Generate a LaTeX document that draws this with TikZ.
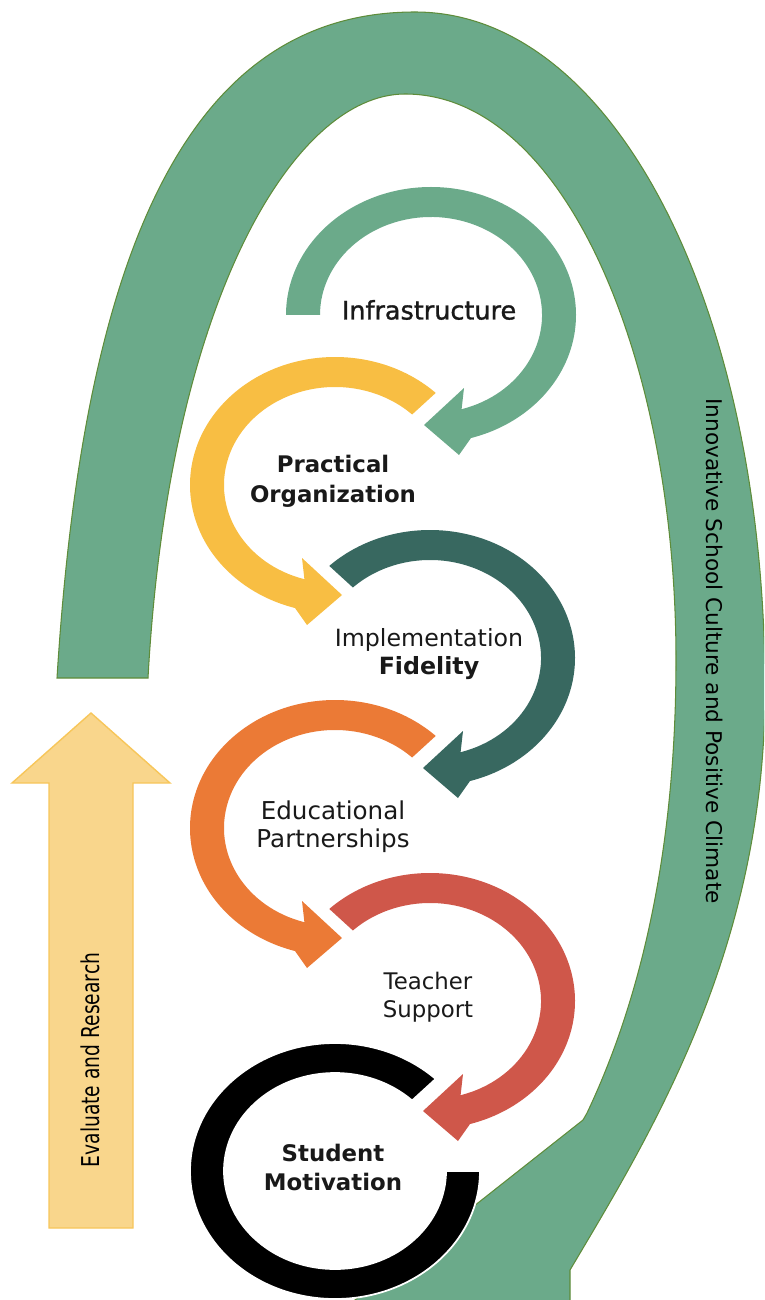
\documentclass[tikz,border=0pt]{standalone}
\usepackage{fontspec}
\setmainfont{DejaVu Sans}
\newfontfamily\narrowfont[FakeStretch=0.76]{DejaVu Sans}
\newfontfamily\mediumfont[FakeBold=1.2]{DejaVu Sans}
\usepackage{xcolor}
\usepackage{tikz}

\definecolor{sagegreen}{RGB}{107,170,138}
\definecolor{sageline}{RGB}{94,140,58}
\definecolor{sunyellow}{RGB}{248,190,67}
\definecolor{deepteal}{RGB}{56,104,96}
\definecolor{warmorange}{RGB}{235,122,54}
\definecolor{brickred}{RGB}{207,87,74}
\definecolor{paleyellow}{RGB}{249,214,140}
\definecolor{paleline}{RGB}{247,198,90}

\begin{document}
\begin{tikzpicture}[x=0.02cm, y=0.02cm, ringtext/.style={align=center, inner sep=0pt, text=black!90}]
\useasboundingbox (0,0) rectangle (764,-1300);
\clip (0,0) rectangle (764,-1300);

% big loop arrow
\draw[fill=sagegreen, draw=sageline, line width=0.6pt] (57,-678) .. controls (83,-258) and (185,-12) .. (415,-12) .. controls (615,-12) and (765,-310) .. (765,-690) .. controls (765,-950) and (650,-1135) .. (570,-1270) -- (570,-1360) -- (317,-1330) -- (583,-1120) -- (587,-1113) .. controls (662,-955) and (676,-780) .. (676,-660) .. controls (676,-360) and (565,-94) .. (405,-94) .. controls (295,-94) and (169,-298) .. (148,-678) -- cycle;
\node[rotate=-90, font=\fontsize{12.3}{14}\selectfont, inner sep=0pt] (climate) at (715,-651) {Innovative School Culture and Positive Climate};

% evaluate arrow
\draw[fill=paleyellow, draw=paleline, line width=0.8pt] (49,-1228) -- (49,-783) -- (12,-783) -- (91,-713) -- (170,-783) -- (133,-783) -- (133,-1228) -- cycle;
\node[rotate=90, font=\narrowfont\fontsize{14}{16}\selectfont, inner sep=0pt] (evalres) at (90,-1060) {Evaluate and Research};

\begin{scope}[shift={(431,-315)}]
\fill[sagegreen] (180:145 and 128) arc[start angle=180, end angle=-74, x radius=145, y radius=128] -- (28,-140) -- (-7,-110) -- (33,-73) -- (-74:111 and 98) arc[start angle=-74, end angle=180, x radius=111, y radius=98] -- cycle;
\node[ringtext, font=\mediumfont\fontsize{14.5}{18}\selectfont] (infra) at (-2,5) {Infrastructure};
\end{scope}

\begin{scope}[shift={(335,-485)}]
\fill[sunyellow] (46:145 and 128) arc[start angle=46, end angle=254, x radius=145, y radius=128] -- (-28,-140) -- (7,-110) -- (-33,-73) -- (254:111 and 98) arc[start angle=254, end angle=46, x radius=111, y radius=98] -- cycle;
\node[ringtext, font=\bfseries\fontsize{13}{17}\selectfont] (practical) at (-2,4) {Practical\\Organization};
\end{scope}

\begin{scope}[shift={(430,-658)}]
\fill[deepteal] (134:145 and 128) arc[start angle=134, end angle=-74, x radius=145, y radius=128] -- (28,-140) -- (-7,-110) -- (33,-73) -- (-74:111 and 98) arc[start angle=-74, end angle=134, x radius=111, y radius=98] -- cycle;
\node[ringtext, font=\fontsize{13.5}{16}\selectfont] (impl) at (-1,4) {Implementation\\\textbf{Fidelity}};
\end{scope}

\begin{scope}[shift={(335,-828)}]
\fill[warmorange] (46:145 and 128) arc[start angle=46, end angle=254, x radius=145, y radius=128] -- (-28,-140) -- (7,-110) -- (-33,-73) -- (254:111 and 98) arc[start angle=254, end angle=46, x radius=111, y radius=98] -- cycle;
\node[ringtext, font=\fontsize{14}{16}\selectfont] (edu) at (-2,1) {Educational\\Partnerships};
\end{scope}

\begin{scope}[shift={(430,-1001)}]
\fill[brickred] (134:145 and 128) arc[start angle=134, end angle=-74, x radius=145, y radius=128] -- (28,-140) -- (-7,-110) -- (33,-73) -- (-74:111 and 98) arc[start angle=-74, end angle=134, x radius=111, y radius=98] -- cycle;
\node[ringtext, font=\fontsize{13}{16}\selectfont] (teacher) at (-2,4) {Teacher\\Support};
\end{scope}

\begin{scope}[shift={(335,-1171)}]
\draw[fill=black, draw=white, line width=1pt] (0:145 and 128) arc[start angle=0, end angle=-314, x radius=145, y radius=128] -- (-314:111 and 98) arc[start angle=-314, end angle=0, x radius=111, y radius=98] -- cycle;
\node[ringtext, font=\bfseries\fontsize{13}{16.5}\selectfont] (student) at (-2,4) {Student\\Motivation};
\end{scope}
\end{tikzpicture}
\end{document}
